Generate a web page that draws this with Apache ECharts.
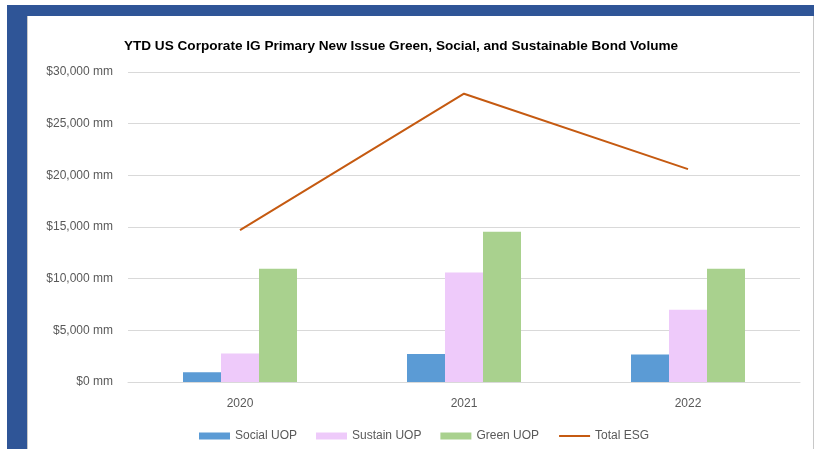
<!DOCTYPE html>
<html>
<head>
<meta charset="utf-8">
<script src="https://cdn.jsdelivr.net/npm/echarts@6/dist/echarts.min.js"></script>
<style>
  html, body { margin: 0; padding: 0; width: 833px; height: 449px; background: #ffffff; overflow: hidden; }
  #frame { position: absolute; left: 7px; top: 5px; width: 807px; height: 460px; background: #2F5597; }
  #inner { position: absolute; left: 27px; top: 16px; width: 785px; height: 450px; background: #ffffff; border-left: 1px solid #c8c8c8; border-right: 1px solid #c8c8c8; }
  #chart { position: absolute; left: 0; top: 0; width: 833px; height: 449px; }
</style>
</head>
<body>
<div id="frame"></div>
<div id="inner"></div>
<div id="chart"></div>
<script>
const categories = ['2020', '2021', '2022'];
const socialUOP = [950, 2700, 2650];
const sustainUOP = [2750, 10600, 7000];
const greenUOP = [10950, 14550, 10950];
const totalESG = [14700, 27900, 20600];
const yTicks = { min: 0, max: 30000, interval: 5000 };

const chart = echarts.init(document.getElementById('chart'), null, { renderer: 'canvas' });
const fontFam = 'Liberation Sans, Arial, sans-serif';
chart.setOption({
  backgroundColor: 'transparent',
  animation: false,
  title: {
    text: 'YTD US Corporate IG Primary New Issue Green, Social, and Sustainable Bond Volume',
    left: 396, top: 34, textAlign: 'center',
    textStyle: { fontSize: 13.6, fontWeight: 'bold', color: '#000000', fontFamily: fontFam }
  },
  legend: {
    top: 430, left: 199, padding: 0,
    itemWidth: 31, itemHeight: 7, itemGap: 19,
    textStyle: { fontSize: 12, color: '#595959', fontFamily: fontFam },
    data: [
      { name: 'Social UOP', icon: 'rect' },
      { name: 'Sustain UOP', icon: 'rect' },
      { name: 'Green UOP', icon: 'rect' },
      { name: 'Total ESG', itemStyle: { opacity: 0 } }
    ]
  },
  grid: { left: 128, right: 33, top: 72, bottom: 67 },
  xAxis: {
    type: 'category', data: categories,
    axisLine: { lineStyle: { color: '#d9d9d9' } },
    axisTick: { show: false },
    axisLabel: { color: '#595959', fontSize: 12, margin: 16, fontFamily: fontFam }
  },
  yAxis: {
    type: 'value', min: yTicks.min, max: yTicks.max, interval: yTicks.interval,
    axisLine: { show: false }, axisTick: { show: false },
    splitLine: { lineStyle: { color: '#d9d9d9', width: 1 } },
    axisLabel: {
      color: '#595959', fontSize: 12, margin: 15, fontFamily: fontFam,
      formatter: v => '$' + v.toLocaleString('en-US') + ' mm'
    }
  },
  series: [
    { name: 'Social UOP', type: 'bar', data: socialUOP, barWidth: 38, barGap: '0%', itemStyle: { color: '#5B9BD5' } },
    { name: 'Sustain UOP', type: 'bar', data: sustainUOP, barWidth: 38, barGap: '0%', itemStyle: { color: '#EECAFA' } },
    { name: 'Green UOP', type: 'bar', data: greenUOP, barWidth: 38, barGap: '0%', itemStyle: { color: '#A9D18E' } },
    { name: 'Total ESG', type: 'line', data: totalESG, symbol: 'none', lineStyle: { color: '#C55A11', width: 2 }, itemStyle: { color: '#C55A11' } }
  ]
});
</script>
</body>
</html>
